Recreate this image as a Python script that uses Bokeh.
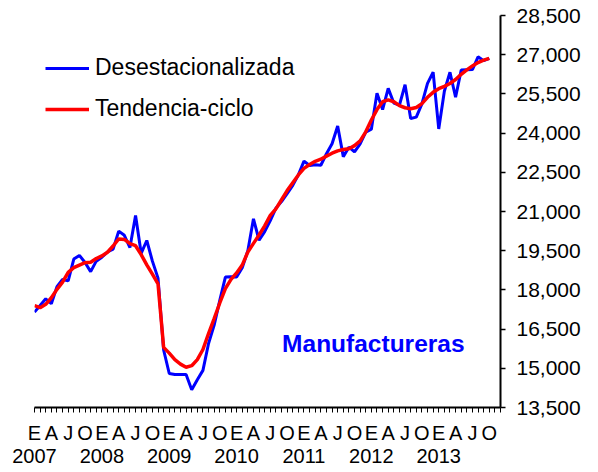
from bokeh.plotting import figure
from bokeh.models import (Range1d, FixedTicker, LinearAxis, NumeralTickFormatter,
                          Legend, LegendItem, Label)
from bokeh.embed import file_html
from bokeh.resources import INLINE

years = [2007, 2008, 2009, 2010, 2011, 2012, 2013]
month_letters = ["E", "F", "M", "A", "M", "J", "J", "A", "S", "O", "N", "D"]
shown_months = ["E", "A", "J", "O"]
y_ticks = [13500, 15000, 16500, 18000, 19500, 21000, 22500, 24000, 25500, 27000, 28500]

desestacionalizada = [
    17150, 17400, 17660, 17470, 18120, 18400, 18350, 19180, 19320, 19050, 18700, 19100,
    19250, 19450, 19560, 20250, 20090, 19620, 20850, 19400, 19890, 19100, 18450, 15700,
    14800, 14760, 14760, 14760, 14180, 14560, 14920, 15950, 16650, 17600, 18490, 18500,
    18490, 18850, 19500, 20720, 19900, 20230, 20650, 21130, 21380, 21680, 22000, 22400,
    22930, 22760, 22790, 22770, 23210, 23590, 24270, 23100, 23460, 23280, 23590, 24040,
    24150, 25530, 24900, 25710, 25150, 25070, 25850, 24560, 24610, 25120, 25900, 26330,
    24160, 25600, 26330, 25370, 26410, 26420, 26430, 26920, 26770, 26860,
]
tendencia_ciclo = [
    17400, 17320, 17450, 17700, 18020, 18300, 18670, 18850, 18950, 19040, 19060, 19200,
    19300, 19440, 19680, 19950, 19930, 19770, 19690, 19350, 18960, 18600, 18230, 15800,
    15580, 15330, 15160, 15040, 15100, 15330, 15720, 16330, 16900, 17500, 18050, 18400,
    18650, 18950, 19450, 19780, 20100, 20450, 20850, 21100, 21450, 21800, 22100, 22400,
    22650, 22800, 22920, 23000, 23120, 23230, 23320, 23370, 23400, 23520, 23700, 24050,
    24500, 24900, 25200, 25270, 25200, 25050, 24970, 24930, 24980, 25130, 25370, 25560,
    25700, 25790, 25900, 26050, 26250, 26420, 26570, 26700, 26790, 26860,
]

n_axis = len(years) * 12
periodos = [f"{y}-{m + 1:02d}" for y in years for m in range(12)][:len(desestacionalizada)]
x = list(range(len(periodos)))

FONT = "Liberation Sans"

p = figure(width=598, height=472, output_backend="svg", toolbar_location=None,
           x_range=Range1d(0, n_axis - 1), y_range=Range1d(y_ticks[0], y_ticks[-1]),
           x_axis_location="below", y_axis_location="right",
           min_border_left=34, min_border_right=98, min_border_top=15, min_border_bottom=65)
p.outline_line_color = None
p.xgrid.visible = False
p.ygrid.visible = False
p.background_fill_color = "white"
p.border_fill_color = "white"

# month axis
xa = p.xaxis[0]
xa.ticker = FixedTicker(ticks=list(range(n_axis)))
xa.major_label_overrides = {
    i: (month_letters[i % 12] if month_letters[i % 12] in shown_months and i % 3 == 0 else "")
    for i in range(n_axis)
}
xa.minor_tick_line_color = None
xa.major_tick_out = 5
xa.major_tick_in = 0
xa.major_tick_line_color = "black"
xa.major_tick_line_width = 1
xa.axis_line_color = "black"
xa.axis_line_width = 2
xa.major_label_text_font = FONT
xa.major_label_text_font_size = "20px"
xa.major_label_text_color = "black"
xa.major_label_standoff = 9

# year axis
ya_years = LinearAxis(ticker=FixedTicker(ticks=[12 * k for k in range(len(years))]))
ya_years.major_label_overrides = {12 * k: str(y) for k, y in enumerate(years)}
ya_years.axis_line_color = None
ya_years.major_tick_line_color = None
ya_years.minor_tick_line_color = None
ya_years.major_tick_out = 0
ya_years.major_tick_in = 0
ya_years.major_label_standoff = 2
ya_years.major_label_text_font = FONT
ya_years.major_label_text_font_size = "20px"
ya_years.major_label_text_color = "black"
p.add_layout(ya_years, "below")

# value axis
yax = p.yaxis[0]
yax.ticker = FixedTicker(ticks=y_ticks)
yax.formatter = NumeralTickFormatter(format="0,0")
yax.minor_tick_line_color = None
yax.major_tick_out = 5
yax.major_tick_in = 0
yax.major_tick_line_width = 1.5
yax.axis_line_width = 2
yax.axis_line_color = "black"
yax.major_label_standoff = 11
yax.major_label_text_font = FONT
yax.major_label_text_font_size = "21px"
yax.major_label_text_color = "black"

r1 = p.line(x, desestacionalizada, line_color="#0000FF", line_width=3)
r2 = p.line(x, tendencia_ciclo, line_color="#FF0000", line_width=3.5)

legend = Legend(items=[LegendItem(label="Desestacionalizada", renderers=[r1]),
                       LegendItem(label="Tendencia-ciclo", renderers=[r2])],
                location=(11, 285), padding=0, margin=0, spacing=14,
                glyph_width=44, glyph_height=26, label_height=26, label_standoff=6,
                border_line_color=None, background_fill_alpha=0,
                label_text_font=FONT, label_text_font_size="23px", label_text_color="black")
p.add_layout(legend)

p.add_layout(Label(x=44.1, y=15940, text="Manufactureras", text_font=FONT,
                   text_font_style="bold", text_font_size="24.5px", text_color="#0000FF",
                   text_baseline="middle", text_align="left"))

open("out.html", "w").write(file_html(p, INLINE))
